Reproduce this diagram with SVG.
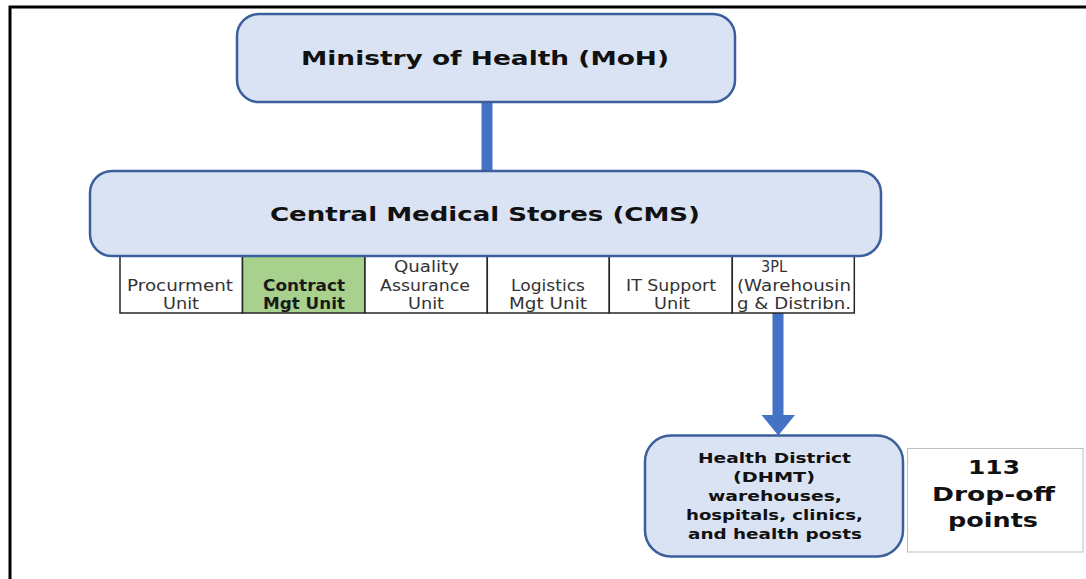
<svg xmlns="http://www.w3.org/2000/svg" width="1086" height="579" viewBox="0 0 1086 579">
<style>
.box{fill:#dae3f3;stroke:#3a5f9c;stroke-width:2.5}
.cell{fill:#ffffff;stroke:#262626;stroke-width:1.5}
.t{font-family:"DejaVu Sans","Liberation Sans",sans-serif;text-anchor:middle}
.big{font-size:20px;font-weight:bold;fill:#111}
.ct{font-size:15px;fill:#333}
.cb{font-size:15px;font-weight:bold;fill:#1a1a1a}
.hd{font-size:14px;font-weight:bold;fill:#111}
.dp{font-size:19px;font-weight:bold;fill:#111}
.conn{stroke:#4472c4;stroke-width:11;fill:none}
.head{fill:#4472c4}
</style>
<rect width="1086" height="579" fill="#ffffff"/>
<g id="frame">
<path d="M10,579 L10,7 L1086,7" fill="none" stroke="#000" stroke-width="3"/>
</g>
<g id="connectors">
<line class="conn" x1="487" y1="102" x2="487" y2="171"/>
<line class="conn" x1="778" y1="313" x2="778" y2="417"/>
<polygon class="head" points="761.5,415 795,415 778.3,435.5"/>
</g>
<g id="units">
<rect class="cell" x="120" y="256" width="122.5" height="57"/>
<rect class="cell" x="242.5" y="256" width="122.5" height="57" style="fill:#a9d18e"/>
<rect class="cell" x="365" y="256" width="122.3" height="57"/>
<rect class="cell" x="487.3" y="256" width="122" height="57"/>
<rect class="cell" x="609.3" y="256" width="123" height="57"/>
<rect class="cell" x="732.3" y="256" width="122" height="57"/>
<text class="t ct" x="180" y="291" textLength="106" lengthAdjust="spacingAndGlyphs">Procurment</text>
<text class="t ct" x="181" y="308.5" textLength="36" lengthAdjust="spacingAndGlyphs">Unit</text>
<text class="t cb" x="304" y="291" textLength="82" lengthAdjust="spacingAndGlyphs">Contract</text>
<text class="t cb" x="304" y="308.5" textLength="82" lengthAdjust="spacingAndGlyphs">Mgt Unit</text>
<text class="t ct" x="426.5" y="272" textLength="65" lengthAdjust="spacingAndGlyphs">Quality</text>
<text class="t ct" x="425" y="291" textLength="90" lengthAdjust="spacingAndGlyphs">Assurance</text>
<text class="t ct" x="426" y="308.5" textLength="36" lengthAdjust="spacingAndGlyphs">Unit</text>
<text class="t ct" x="548" y="291" textLength="74" lengthAdjust="spacingAndGlyphs">Logistics</text>
<text class="t ct" x="548" y="308.5" textLength="78" lengthAdjust="spacingAndGlyphs">Mgt Unit</text>
<text class="t ct" x="671" y="291" textLength="90" lengthAdjust="spacingAndGlyphs">IT Support</text>
<text class="t ct" x="672" y="308.5" textLength="36" lengthAdjust="spacingAndGlyphs">Unit</text>
<text class="t ct" x="774" y="272" textLength="26" lengthAdjust="spacingAndGlyphs">3PL</text>
<text class="t ct" x="794" y="291" textLength="114" lengthAdjust="spacingAndGlyphs">(Warehousin</text>
<text class="t ct" x="794" y="308.5" textLength="114" lengthAdjust="spacingAndGlyphs">g &amp; Distribn.</text>
</g>
<g id="moh">
<rect class="box" x="237" y="14" width="498" height="88" rx="22"/>
<text class="t big" x="485" y="65" textLength="368" lengthAdjust="spacingAndGlyphs">Ministry of Health (MoH)</text>
</g>
<g id="cms">
<rect class="box" x="90" y="171" width="791" height="85" rx="22"/>
<text class="t big" x="485" y="221" textLength="430" lengthAdjust="spacingAndGlyphs">Central Medical Stores (CMS)</text>
</g>
<g id="district">
<rect class="box" x="645" y="435.5" width="258" height="121" rx="26"/>
<text class="t hd" x="774.5" y="463" textLength="153" lengthAdjust="spacingAndGlyphs">Health District</text>
<text class="t hd" x="774" y="482" textLength="82" lengthAdjust="spacingAndGlyphs">(DHMT)</text>
<text class="t hd" x="775" y="501" textLength="134" lengthAdjust="spacingAndGlyphs">warehouses,</text>
<text class="t hd" x="774.5" y="520" textLength="177" lengthAdjust="spacingAndGlyphs">hospitals, clinics,</text>
<text class="t hd" x="775" y="539" textLength="174" lengthAdjust="spacingAndGlyphs">and health posts</text>
</g>
<g id="dropoff">
<rect x="907.5" y="448.5" width="175.5" height="103.5" fill="#ffffff" stroke="#bfbfbf" stroke-width="1"/>
<text class="t dp" x="994" y="474" textLength="52" lengthAdjust="spacingAndGlyphs">113</text>
<text class="t dp" x="993.5" y="501" textLength="123" lengthAdjust="spacingAndGlyphs">Drop-off</text>
<text class="t dp" x="993" y="527" textLength="90" lengthAdjust="spacingAndGlyphs">points</text>
</g>
</svg>
